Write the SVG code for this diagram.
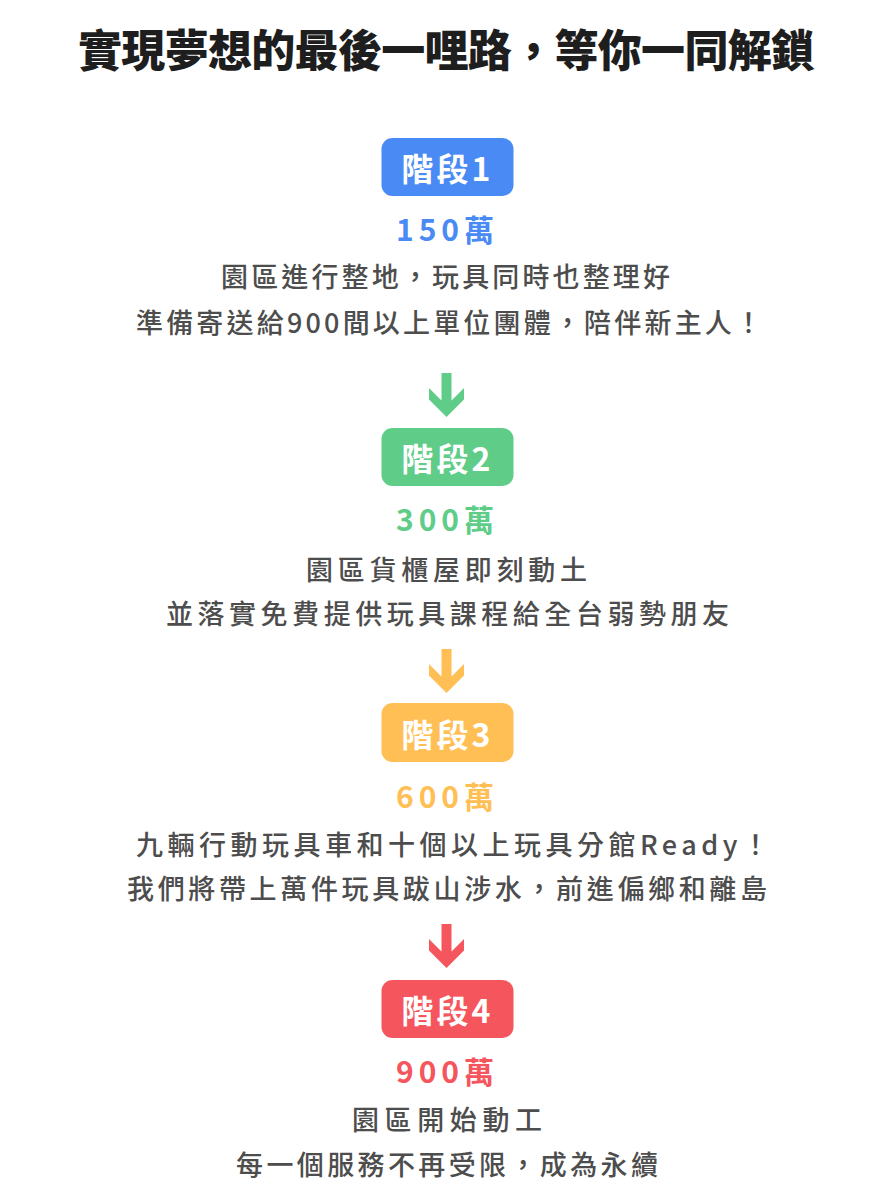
<svg xmlns="http://www.w3.org/2000/svg" xmlns:xlink="http://www.w3.org/1999/xlink" width="893" height="1200" viewBox="0 0 893 1200">
<style>
text{font-family:"Noto Sans CJK TC","Noto Sans CJK SC",sans-serif;dominant-baseline:central}
.title{font-size:44px;font-weight:900;fill:#1e1e1e}
.badge-t{font-size:32px;font-weight:700;fill:#ffffff;letter-spacing:3px;text-anchor:middle}
.amt{font-size:30px;font-weight:700;letter-spacing:5px;text-anchor:middle}
.desc{font-size:27px;font-weight:500;fill:#4d4d4d}
.blue{fill:#4a8af4}.green{fill:#5fcc88}.yellow{fill:#ffbf55}.red{fill:#f5555c}
</style>
<defs>
<path id="arrow" d="M-5 0 H5 V27.5 L17.5 15 V26.5 L0 44 L-17.5 26.5 V15 L-5 27.5 Z"/>
</defs>
<rect width="893" height="1200" fill="#ffffff"/>
<g id="title">
<text class="title" x="78" y="48" textLength="737" lengthAdjust="spacing">實現夢想的最後一哩路，等你一同解鎖</text>
</g>
<g id="stage1">
<rect class="blue" x="381.5" y="138" width="132" height="58" rx="11"/>
<text class="badge-t" x="447.5" y="167">階段1</text>
<text class="amt blue" x="447.5" y="228">150萬</text>
<text class="desc" x="221" y="275" textLength="449" lengthAdjust="spacing">園區進行整地，玩具同時也整理好</text>
<text class="desc" x="136" y="321" textLength="626" lengthAdjust="spacing">準備寄送給900間以上單位團體，陪伴新主人！</text>
</g>
<g id="stage2">
<rect class="green" x="381.5" y="428" width="132" height="58" rx="11"/>
<text class="badge-t" x="447.5" y="457">階段2</text>
<text class="amt green" x="447.5" y="518">300萬</text>
<text class="desc" x="306" y="568" textLength="281" lengthAdjust="spacing">園區貨櫃屋即刻動土</text>
<text class="desc" x="166" y="612" textLength="563" lengthAdjust="spacing">並落實免費提供玩具課程給全台弱勢朋友</text>
</g>
<g id="stage3">
<rect class="yellow" x="381.5" y="703" width="132" height="59" rx="11"/>
<text class="badge-t" x="447.5" y="733">階段3</text>
<text class="amt yellow" x="447.5" y="795">600萬</text>
<text class="desc" x="136" y="843" textLength="633" lengthAdjust="spacing">九輛行動玩具車和十個以上玩具分館Ready！</text>
<text class="desc" x="127" y="887" textLength="640" lengthAdjust="spacing">我們將帶上萬件玩具跋山涉水，前進偏鄉和離島</text>
</g>
<g id="stage4">
<rect class="red" x="381.5" y="980" width="132" height="58" rx="11"/>
<text class="badge-t" x="447.5" y="1009">階段4</text>
<text class="amt red" x="447.5" y="1070">900萬</text>
<text class="desc" x="352" y="1118" textLength="190" lengthAdjust="spacing">園區開始動工</text>
<text class="desc" x="236" y="1163" textLength="422" lengthAdjust="spacing">每一個服務不再受限，成為永續</text>
</g>
<g id="connectors">
<use xlink:href="#arrow" href="#arrow" class="green" transform="translate(446.5 373)"/>
<use xlink:href="#arrow" href="#arrow" class="yellow" transform="translate(446.5 649)"/>
<use xlink:href="#arrow" href="#arrow" class="red" transform="translate(446.5 924)"/>
</g>
</svg>
